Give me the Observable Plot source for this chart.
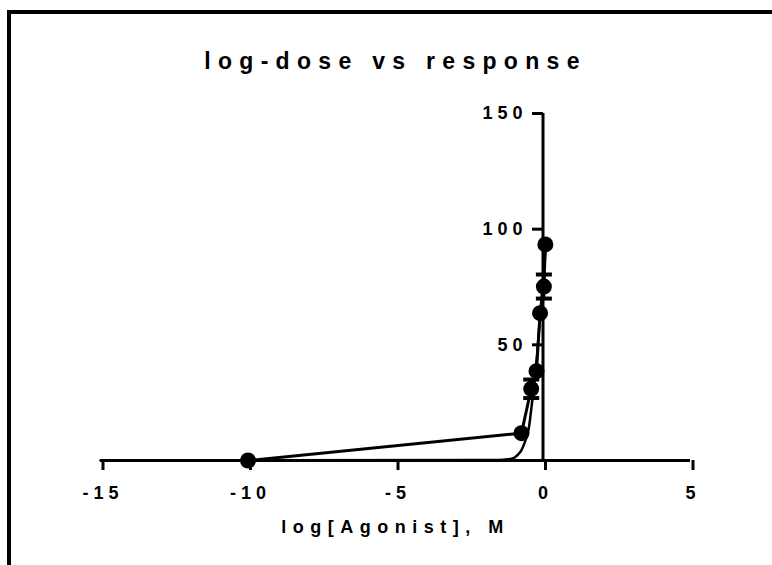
<!DOCTYPE html>
<html>
<head>
<meta charset="utf-8">
<script src="https://cdn.jsdelivr.net/npm/d3@7"></script>
<script src="https://cdn.jsdelivr.net/npm/@observablehq/plot@0.6"></script>
<style>
  html, body { margin: 0; padding: 0; background: #fff; overflow: hidden; width: 772px; height: 565px; }
  #wrap { position: relative; width: 772px; height: 565px; }
  #frame { position: absolute; left: 7px; top: 10px; width: 800px; height: 600px; border: 4px solid #000; box-sizing: border-box; pointer-events: none; }
  #chart { position: absolute; left: 0; top: 0; }
  svg text { font-family: "Liberation Sans", Arial, sans-serif; font-weight: bold; }
  .sp5 text, text.sp5 { letter-spacing: 5px; }
  .sp6 text, text.sp6 { letter-spacing: 6.5px; }
  .sp7 text, text.sp7 { letter-spacing: 7.3px; }
</style>
</head>
<body>
<div id="wrap"><div id="chart"></div><div id="frame"></div></div>
<script>
// ---- data ----
const title = "log-dose vs response";
const xLabel = "log[Agonist], M";
const xDomain = [-15, 5];
const yDomain = [0, 150];
const xTicks = [-15, -10, -5, 0, 5];
const yTicks = [0, 50, 100, 150];
const yTickLabels = ["", "50", "100", "150"];

const logDose = [-10, -0.73, -0.4, -0.22, -0.1, 0.03, 0.08];
const response = [0, 11.8, 31.0, 38.6, 63.7, 75.2, 93.4];
const sem = [0, 0, 4.0, 0, 0, 5.2, 0];

// fitted sigmoid
const fitX = [-15, -1.5, -1.2, -1.0, -0.85, -0.73, -0.6, -0.48, -0.4, -0.3, -0.2, -0.1, 0, 0.08];
const fitY = [0, 0.2, 0.5, 1, 2.5, 4.5, 8.5, 14, 22, 33, 46, 62, 78, 90];

const points = logDose.map((x, i) => ({x, y: response[i], e: sem[i]}));
const errs = points.filter(d => d.e > 0);
const fit = fitX.map((x, i) => ({x, y: fitY[i]}));
const yTickRows = yTicks.map((v, i) => ({v, label: yTickLabels[i]})).filter(d => d.v > 0);

const capSymbol = {draw(ctx) { ctx.moveTo(-8, -2); ctx.lineTo(8, -2); ctx.lineTo(8, 2); ctx.lineTo(-8, 2); ctx.closePath(); }};
const yTickSymbol = {draw(ctx) { ctx.moveTo(-11, -1.5); ctx.lineTo(0, -1.5); ctx.lineTo(0, 1.5); ctx.lineTo(-11, 1.5); ctx.closePath(); }};

const chart = Plot.plot({
  width: 772,
  height: 565,
  marginLeft: 100,
  marginRight: 82,
  marginTop: 113,
  marginBottom: 105,
  style: {background: "transparent", color: "#000", fontFamily: "Liberation Sans, Arial, sans-serif"},
  x: {domain: xDomain, axis: null},
  y: {domain: yDomain, axis: null},
  marks: [
    // x axis
    Plot.ruleY([0], {stroke: "#000", strokeWidth: 3}),
    Plot.axisX({ticks: xTicks, tickSize: 10, strokeWidth: 3, tickPadding: 16, fontSize: 18, fontWeight: "bold", tickFormat: d => String(d).replace("\u2212", "-"), label: null, className: "sp5", dx: 2.5}),
    // y axis drawn at x = 0
    Plot.ruleX([0], {y1: yDomain[0], y2: yDomain[1], stroke: "#000", strokeWidth: 3}),
    Plot.dot(yTickRows, {x: () => 0, y: "v", symbol: yTickSymbol, fill: "#000", stroke: "none"}),
    Plot.text(yTickRows, {x: () => 0, y: "v", text: "label", textAnchor: "end", dx: -15.5, fontSize: 18, fontWeight: "bold", className: "sp5"}),
    // fitted curve
    Plot.line(fit, {x: "x", y: "y", stroke: "#000", strokeWidth: 2.5, curve: "monotone-x"}),
    // connecting line
    Plot.line(points, {x: "x", y: "y", stroke: "#000", strokeWidth: 3}),
    // error bars
    Plot.ruleX(errs, {x: "x", y1: d => d.y - d.e, y2: d => d.y + d.e, stroke: "#000", strokeWidth: 3}),
    Plot.dot(errs, {x: "x", y: d => d.y - d.e, symbol: capSymbol, fill: "#000", stroke: "none"}),
    Plot.dot(errs, {x: "x", y: d => d.y + d.e, symbol: capSymbol, fill: "#000", stroke: "none"}),
    // data points
    Plot.dot(points, {x: "x", y: "y", r: 8, fill: "#000", stroke: "none"}),
    // axis title
    Plot.text([xLabel], {x: () => d3.mean(xDomain), y: () => 0, dy: 67, fontSize: 18, fontWeight: "bold", className: "sp6", textAnchor: "middle", lineAnchor: "middle"}),
    // chart title
    Plot.text([title], {frameAnchor: "top", lineAnchor: "middle", dy: -52, fontSize: 23, fontWeight: "bold", className: "sp7"})
  ]
});
document.getElementById("chart").appendChild(chart);
</script>
</body>
</html>
